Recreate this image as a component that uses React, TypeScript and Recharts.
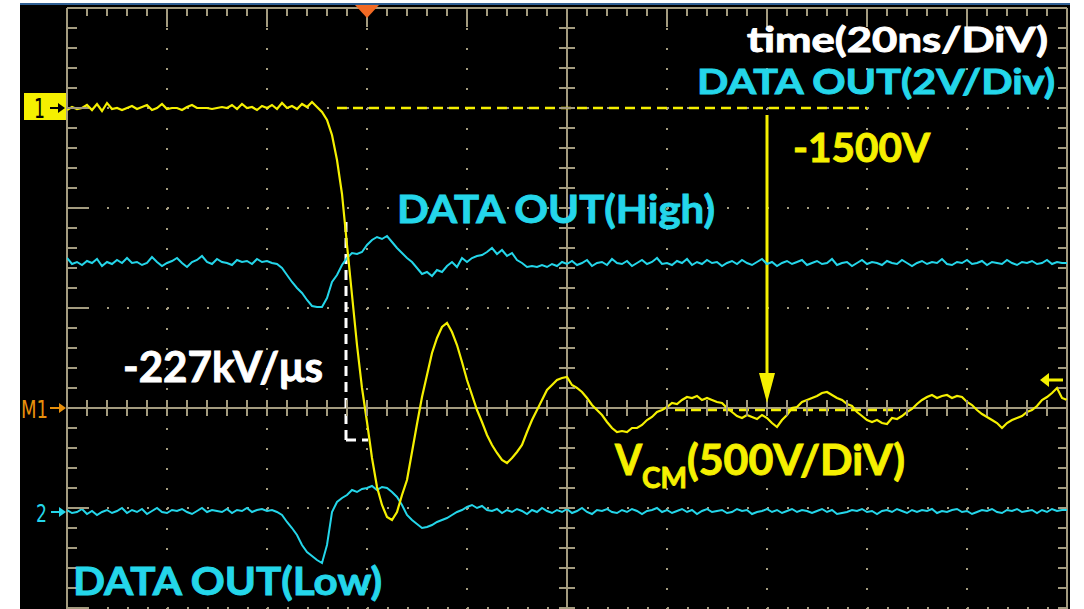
import {
  ComposedChart,
  Line,
  Scatter,
  XAxis,
  YAxis,
  CartesianGrid,
  ReferenceLine,
  ReferenceDot,
} from 'recharts';

// Sample clock of the capture (ns), 20 ns/div, trigger at t = 0
const T_START = -60;
const T_STEP = 1;
const T_END = 140;

// CH1: common-mode voltage V_CM (V), 500 V/div, reference marker at 0 div
const VCM_VOLTS = [
  1490, 1505, 1495, 1500, 1515, 1490, 1520, 1485, 1525, 1495, // -60
  1500, 1490, 1500, 1510, 1495, 1505, 1515, 1490, 1500, 1520, // -50
  1495, 1500, 1500, 1490, 1505, 1515, 1500, 1500, 1500, 1495, // -40
  1500, 1505, 1500, 1515, 1495, 1520, 1500, 1505, 1490, 1510, // -30
  1500, 1515, 1495, 1525, 1500, 1510, 1495, 1520, 1505, 1530, // -20
  1505, 1480, 1440, 1365, 1240, 1070, 815, 565, 315, 100, // -10
  -70, -250, -395, -485, -545, -560, -520, -435, -360, -220, // 0
  -80, 55, 165, 275, 350, 405, 425, 380, 315, 230, // 10
  140, 65, -10, -70, -135, -185, -225, -260, -275, -250, // 20
  -220, -185, -120, -60, -10, 40, 90, 115, 140, 150, // 30
  155, 115, 100, 80, 50, 15, -10, -35, -70, -100, // 40
  -120, -115, -120, -100, -100, -85, -60, -45, -20, -10, // 50
  5, 25, 20, 40, 55, 50, 60, 40, 50, 40, // 60
  30, 25, 0, -20, -40, -50, -35, -45, -55, -35, // 70
  -50, -75, -95, -60, -35, 0, 5, 30, 40, 50, // 80
  60, 75, 80, 65, 50, 40, 20, 10, -20, -40, // 90
  -60, -70, -60, -75, -80, -50, -55, -40, -20, -5, // 100
  20, 40, 55, 65, 50, 60, 65, 50, 60, 55, // 110
  30, 15, -10, -30, -45, -60, -75, -100, -75, -60, // 120
  -50, -40, -20, -10, 10, 40, 55, 75, 100, 50, // 130
  40,
];

// CH2: DATA OUT with the output held high (V), 2 V/div
const OUT_HIGH_VOLTS = [
  5.08, 4.96, 5.0, 4.94, 5.02, 4.98, 5.06, 4.92, 5.0, 4.96, // -60
  5.04, 4.98, 5.08, 4.98, 5.0, 4.94, 4.98, 5.1, 5.0, 4.92, // -50
  4.98, 5.02, 5.08, 4.98, 4.9, 5.0, 5.04, 5.12, 5.0, 4.96, // -40
  5.06, 5.0, 4.98, 4.94, 5.04, 5.0, 5.02, 4.96, 5.06, 5.0, // -30
  5.02, 4.98, 4.96, 4.88, 4.74, 4.6, 4.48, 4.38, 4.24, 4.12, // -20
  4.1, 4.1, 4.28, 4.6, 4.74, 4.94, 5.08, 5.18, 5.16, 5.2, // -10
  5.34, 5.44, 5.5, 5.46, 5.52, 5.4, 5.28, 5.18, 5.08, 5.0, // 0
  4.88, 4.76, 4.8, 4.72, 4.84, 4.8, 4.92, 5.0, 4.9, 5.08, // 10
  5.0, 5.08, 5.12, 5.14, 5.2, 5.28, 5.16, 5.24, 5.12, 5.18, // 20
  5.04, 4.98, 4.9, 4.92, 4.9, 4.94, 4.9, 4.96, 4.92, 5.0, // 30
  4.96, 5.02, 4.94, 4.98, 5.04, 4.92, 4.98, 5.0, 4.94, 5.06, // 40
  4.98, 4.96, 5.02, 4.92, 4.98, 5.04, 4.96, 5.0, 5.08, 4.96, // 50
  4.98, 4.94, 5.02, 4.98, 5.06, 4.94, 5.0, 4.96, 5.04, 4.98, // 60
  5.0, 4.92, 4.98, 5.02, 4.96, 5.04, 4.98, 4.94, 5.0, 5.06, // 70
  4.96, 5.0, 4.92, 4.98, 5.02, 4.96, 5.0, 5.04, 4.94, 4.98, // 80
  5.02, 4.96, 4.98, 5.06, 4.94, 4.98, 5.0, 4.92, 4.98, 5.04, // 90
  4.96, 5.0, 4.98, 4.94, 5.02, 4.98, 4.96, 5.04, 4.98, 4.92, // 100
  4.98, 5.02, 4.96, 5.0, 4.98, 5.06, 4.96, 4.94, 5.0, 4.98, // 110
  5.04, 4.96, 4.98, 5.02, 4.94, 5.0, 4.98, 4.96, 5.04, 4.98, // 120
  4.94, 5.0, 4.98, 5.02, 4.96, 4.98, 5.04, 4.96, 5.0, 4.98, // 130
  4.98,
];

// CH2: DATA OUT with the output held low (V), 2 V/div
const OUT_LOW_VOLTS = [
  0.04, -0.02, 0.0, 0.06, -0.04, 0.02, -0.06, 0.0, 0.04, -0.02, // -60
  0.02, 0.08, -0.02, 0.04, 0.0, 0.06, -0.04, 0.02, 0.08, 0.0, // -50
  -0.02, 0.04, 0.02, 0.06, 0.0, -0.04, 0.02, 0.08, 0.0, 0.04, // -40
  0.02, 0.0, 0.06, -0.02, 0.04, 0.02, 0.08, 0.0, 0.04, 0.06, // -30
  0.02, 0.04, 0.0, -0.06, -0.2, -0.32, -0.46, -0.66, -0.8, -0.88, // -20
  -0.96, -1.02, -0.66, 0.0, 0.2, 0.28, 0.34, 0.44, 0.4, 0.46, // -10
  0.48, 0.52, 0.44, 0.5, 0.48, 0.4, 0.3, 0.14, -0.06, -0.16, // 0
  -0.24, -0.32, -0.3, -0.26, -0.2, -0.16, -0.12, -0.06, 0.0, 0.04, // 10
  0.1, 0.14, 0.08, 0.12, 0.04, 0.02, 0.06, -0.02, 0.04, 0.0, // 20
  0.06, 0.02, -0.04, 0.04, 0.0, 0.08, 0.02, -0.02, 0.04, 0.0, // 30
  0.06, -0.02, 0.02, 0.08, 0.0, -0.04, 0.04, 0.02, 0.06, 0.0, // 40
  -0.02, 0.04, 0.0, 0.06, 0.02, -0.04, 0.02, 0.04, 0.08, 0.0, // 50
  0.04, -0.02, 0.02, 0.06, 0.0, 0.04, -0.04, 0.02, 0.06, 0.0, // 60
  0.02, 0.04, -0.02, 0.0, 0.06, 0.02, 0.04, -0.04, 0.0, 0.02, // 70
  0.06, 0.0, 0.04, -0.02, 0.02, 0.06, 0.0, 0.04, 0.02, -0.02, // 80
  0.02, 0.06, 0.0, 0.04, -0.04, -0.02, 0.0, 0.04, 0.02, 0.06, // 90
  0.0, 0.02, -0.04, 0.02, 0.04, 0.0, 0.06, 0.02, -0.02, 0.04, // 100
  0.0, 0.04, 0.02, 0.06, -0.02, 0.02, 0.0, 0.04, 0.06, 0.0, // 110
  0.02, -0.04, 0.0, 0.04, 0.02, 0.06, 0.0, -0.02, 0.04, 0.02, // 120
  0.06, 0.0, 0.02, 0.04, -0.02, 0.04, 0.0, 0.06, 0.02, 0.04, // 130
  0.04,
];

// Vertical scales and channel positions (divisions from screen centre)
const VCM_PER_DIV = 500;
const OUT_PER_DIV = 2;
const CH1_OFFSET_DIV = 0;
const CH2_OFFSET_DIV = -1.04;

// Measurement annotations
const VCM_START_V = 1500;
const VCM_STEP_V = -1500;
const SLEW_TOP_V = 930;
const SLEW_BOTTOM_V = -160;
const SLEW_T0 = -4.2;
const SLEW_T1 = 0.2;
const STEP_ARROW_T = 80;

// Graticule
const DIV_TOP = 4;
const DIV_BOTTOM = -2.01;
const CENTER_T = 40;
const GRID_T = [-40, -20, 0, 20, 60, 80, 100, 120];
const GRID_DIV = [3, 2, 1, -1, -2];
const MAJOR_T = [-60, -40, -20, 0, 20, 40, 60, 80, 100, 120, 140];
const MAJOR_DIV = [4, 3, 2, 1, 0, -1, -2];
const MINOR_T = Array.from({ length: 51 }, (_, i) => T_START + i * 4);
const MINOR_DIV = Array.from({ length: 31 }, (_, i) => +(DIV_TOP - i * 0.2).toFixed(1));

const GRAT = '#a39b7f';
const YELLOW = '#f5f000';
const CYAN = '#24d6ea';
const FONT = 'Lato, "Open Sans", sans-serif';

const toRows = (vals: number[], perDiv: number, offset: number) =>
  vals.map((v, i) => ({ t: T_START + i * T_STEP, v: v / perDiv + offset }));

const vcmRows = toRows(VCM_VOLTS, VCM_PER_DIV, CH1_OFFSET_DIV);
const highRows = toRows(OUT_HIGH_VOLTS, OUT_PER_DIV, CH2_OFFSET_DIV);
const lowRows = toRows(OUT_LOW_VOLTS, OUT_PER_DIV, CH2_OFFSET_DIV);

const vcmDiv = (v: number) => v / VCM_PER_DIV + CH1_OFFSET_DIV;

const at = (ts: number[], v: number) => ts.map((t) => ({ t, v }));
const along = (t: number, vs: number[]) => vs.map((v) => ({ t, v }));

// short graticule tick drawn relative to the scatter point
const tick = (dx1: number, dy1: number, dx2: number, dy2: number) => (p: any) => (
  <line
    x1={p.cx + dx1}
    y1={p.cy + dy1}
    x2={p.cx + dx2}
    y2={p.cy + dy2}
    stroke={GRAT}
    strokeWidth={2}
  />
);

const ch1Marker = (p: any) => (
  <g>
    <rect x={p.cx - 43} y={p.cy - 15} width={42} height={27} fill={YELLOW} />
    <text x={p.cx - 33} y={p.cy + 10} fontSize={26} fontFamily="DejaVu Sans" fill="#000" textLength={11} lengthAdjust="spacingAndGlyphs">
      1
    </text>
    <line x1={p.cx - 17} y1={p.cy} x2={p.cx - 6} y2={p.cy} stroke="#000" strokeWidth={2} />
    <path d={`M${p.cx - 2},${p.cy} L${p.cx - 9},${p.cy - 5} L${p.cx - 9},${p.cy + 5} Z`} fill="#000" />
  </g>
);

const ch2Marker = (p: any) => (
  <g>
    <text x={p.cx - 31} y={p.cy + 10} fontSize={24} fontFamily="DejaVu Sans" fill={CYAN} textLength={11} lengthAdjust="spacingAndGlyphs">
      2
    </text>
    <line x1={p.cx - 16} y1={p.cy} x2={p.cx - 4} y2={p.cy} stroke={CYAN} strokeWidth={2} />
    <path d={`M${p.cx - 1},${p.cy} L${p.cx - 8},${p.cy - 5} L${p.cx - 8},${p.cy + 5} Z`} fill={CYAN} />
  </g>
);

const mathMarker = (p: any) => (
  <g>
    <text x={p.cx - 46} y={p.cy + 10} fontSize={24} fontFamily="DejaVu Sans" fill="#e8900c" textLength={27} lengthAdjust="spacingAndGlyphs">
      M1
    </text>
    <line x1={p.cx - 17} y1={p.cy} x2={p.cx - 4} y2={p.cy} stroke="#e8900c" strokeWidth={2} />
    <path d={`M${p.cx - 1},${p.cy} L${p.cx - 8},${p.cy - 5} L${p.cx - 8},${p.cy + 5} Z`} fill="#e8900c" />
  </g>
);

const offsetMarker = (p: any) => (
  <g>
    <line x1={p.cx - 22} y1={p.cy} x2={p.cx - 4} y2={p.cy} stroke={YELLOW} strokeWidth={3} />
    <path d={`M${p.cx - 27},${p.cy} L${p.cx - 18},${p.cy - 7} L${p.cx - 18},${p.cy + 7} Z`} fill={YELLOW} />
  </g>
);

const triggerMarker = (p: any) => (
  <path d={`M${p.cx - 12},${p.cy - 3} L${p.cx + 12},${p.cy - 3} L${p.cx},${p.cy + 10} Z`} fill="#f26a24" />
);

const arrowHead = (p: any) => (
  <path d={`M${p.cx},${p.cy} L${p.cx - 8},${p.cy - 30} L${p.cx + 8},${p.cy - 30} Z`} fill={YELLOW} />
);

// bold captions, thickened slightly with an outline in the fill colour
const Caption = ({ x, y, size, color, width, children }: any) => (
  <text
    x={x}
    y={y}
    fontSize={size}
    fill={color}
    stroke={color}
    strokeWidth={0.9}
    textLength={width}
    lengthAdjust="spacingAndGlyphs"
  >
    {children}
  </text>
);

export default function App() {
  return (
    <div style={{ position: 'absolute', left: 0, top: 0, width: 1084, height: 609, background: '#fff', overflow: 'hidden' }}>
      <div
        style={{
          position: 'absolute',
          left: 20,
          top: 3,
          width: 1050,
          height: 606,
          background: '#000',
          borderTop: '2px solid #2f5f93',
        }}
      />
      <div style={{ position: 'absolute', left: 0, top: 0 }}>
        <ComposedChart width={1084} height={609} margin={{ top: 8, right: 17, bottom: 0, left: 67 }}>
          <XAxis
            type="number"
            dataKey="t"
            domain={[T_START, T_END]}
            ticks={GRID_T}
            interval={0}
            allowDataOverflow
            hide
          />
          <YAxis type="number" domain={[DIV_BOTTOM, DIV_TOP]} ticks={GRID_DIV} interval={0} allowDataOverflow hide />
          <CartesianGrid stroke={GRAT} strokeWidth={2} strokeDasharray="2 18" />

          {/* frame and centre axes */}
          <ReferenceLine x={T_START} stroke={GRAT} strokeWidth={2} ifOverflow="visible" />
          <ReferenceLine x={T_END} stroke={GRAT} strokeWidth={2} ifOverflow="visible" />
          <ReferenceLine y={DIV_TOP} stroke={GRAT} strokeWidth={2} ifOverflow="visible" />
          <ReferenceLine x={CENTER_T} stroke={GRAT} strokeWidth={2} />
          <ReferenceLine y={0} stroke={GRAT} strokeWidth={2} />

          <Scatter data={at(MINOR_T, DIV_TOP)} dataKey="v" shape={tick(0, 0, 0, 8)} isAnimationActive={false} />
          <Scatter data={at(MAJOR_T, DIV_TOP)} dataKey="v" shape={tick(0, 0, 0, 19)} isAnimationActive={false} />
          <Scatter data={at(MINOR_T, 0)} dataKey="v" shape={tick(0, -8, 0, 8)} isAnimationActive={false} />
          <Scatter data={along(T_START, MINOR_DIV)} dataKey="v" shape={tick(0, 0, 10, 0)} isAnimationActive={false} />
          <Scatter data={along(T_START, MAJOR_DIV)} dataKey="v" shape={tick(0, 0, 20, 0)} isAnimationActive={false} />
          <Scatter data={along(T_END, MINOR_DIV)} dataKey="v" shape={tick(-9, 0, 0, 0)} isAnimationActive={false} />
          <Scatter data={along(CENTER_T, MINOR_DIV)} dataKey="v" shape={tick(-8, 0, 8, 0)} isAnimationActive={false} />

          {/* annotations */}
          <ReferenceLine
            segment={[{ x: -6, y: vcmDiv(VCM_START_V) }, { x: 100, y: vcmDiv(VCM_START_V) }]}
            stroke={YELLOW}
            strokeWidth={2.5}
            strokeDasharray="10 6"
          />
          <ReferenceLine
            segment={[{ x: 61.6, y: vcmDiv(VCM_START_V + VCM_STEP_V) - 0.02 }, { x: 106.6, y: vcmDiv(VCM_START_V + VCM_STEP_V) - 0.02 }]}
            stroke={YELLOW}
            strokeWidth={2.5}
            strokeDasharray="10 6"
          />
          <ReferenceLine
            segment={[{ x: STEP_ARROW_T, y: vcmDiv(VCM_START_V) - 0.07 }, { x: STEP_ARROW_T, y: vcmDiv(VCM_START_V + VCM_STEP_V) + 0.25 }]}
            stroke={YELLOW}
            strokeWidth={3}
          />
          <ReferenceDot
            x={STEP_ARROW_T}
            y={vcmDiv(VCM_START_V + VCM_STEP_V) + 0.05}
            shape={arrowHead}
            ifOverflow="visible"
          />
          <ReferenceLine
            segment={[{ x: SLEW_T0, y: vcmDiv(SLEW_TOP_V) }, { x: SLEW_T0, y: vcmDiv(SLEW_BOTTOM_V) }]}
            stroke="#fff"
            strokeWidth={3}
            strokeDasharray="10 6"
          />
          <ReferenceLine
            segment={[{ x: SLEW_T0, y: vcmDiv(SLEW_BOTTOM_V) }, { x: SLEW_T1, y: vcmDiv(SLEW_BOTTOM_V) }]}
            stroke="#fff"
            strokeWidth={3}
            strokeDasharray="10 6"
          />

          <Line data={highRows} dataKey="v" type="linear" stroke={CYAN} strokeWidth={2} dot={false} isAnimationActive={false} />
          <Line data={lowRows} dataKey="v" type="linear" stroke={CYAN} strokeWidth={2} dot={false} isAnimationActive={false} />
          <Line data={vcmRows} dataKey="v" type="linear" stroke={YELLOW} strokeWidth={2.2} dot={false} isAnimationActive={false} />

          {/* channel and trigger markers */}
          <ReferenceDot x={T_START} y={vcmDiv(VCM_START_V)} shape={ch1Marker} ifOverflow="visible" />
          <ReferenceDot x={T_START} y={CH2_OFFSET_DIV} shape={ch2Marker} ifOverflow="visible" />
          <ReferenceDot x={T_START} y={CH1_OFFSET_DIV} shape={mathMarker} ifOverflow="visible" />
          <ReferenceDot x={T_END} y={0.28} shape={offsetMarker} ifOverflow="visible" />
          <ReferenceDot x={0} y={DIV_TOP} shape={triggerMarker} ifOverflow="visible" />
        </ComposedChart>
      </div>
      <svg width={1084} height={609} style={{ position: 'absolute', left: 0, top: 0 }} fontFamily={FONT} fontWeight={700}>
        <Caption x={747} y={52} size={34} color="#fff" width={301}>
          time(20ns/DiV)
        </Caption>
        <Caption x={697} y={94} size={34} color={CYAN} width={358}>
          DATA OUT(2V/Div)
        </Caption>
        <Caption x={793} y={162} size={40} color={YELLOW} width={137}>
          -1500V
        </Caption>
        <Caption x={397} y={223} size={39} color={CYAN} width={318}>
          DATA OUT(High)
        </Caption>
        <Caption x={123} y={382} size={42} color="#fff" width={200}>
          -227kV/μs
        </Caption>
        <Caption x={615} y={475} size={42} color={YELLOW} width={27}>
          V
        </Caption>
        <Caption x={642} y={488} size={29} color={YELLOW} width={45}>
          CM
        </Caption>
        <Caption x={687} y={475} size={42} color={YELLOW} width={218}>
          (500V/DiV)
        </Caption>
        <Caption x={73} y={595} size={38} color={CYAN} width={309}>
          DATA OUT(Low)
        </Caption>
      </svg>
    </div>
  );
}
